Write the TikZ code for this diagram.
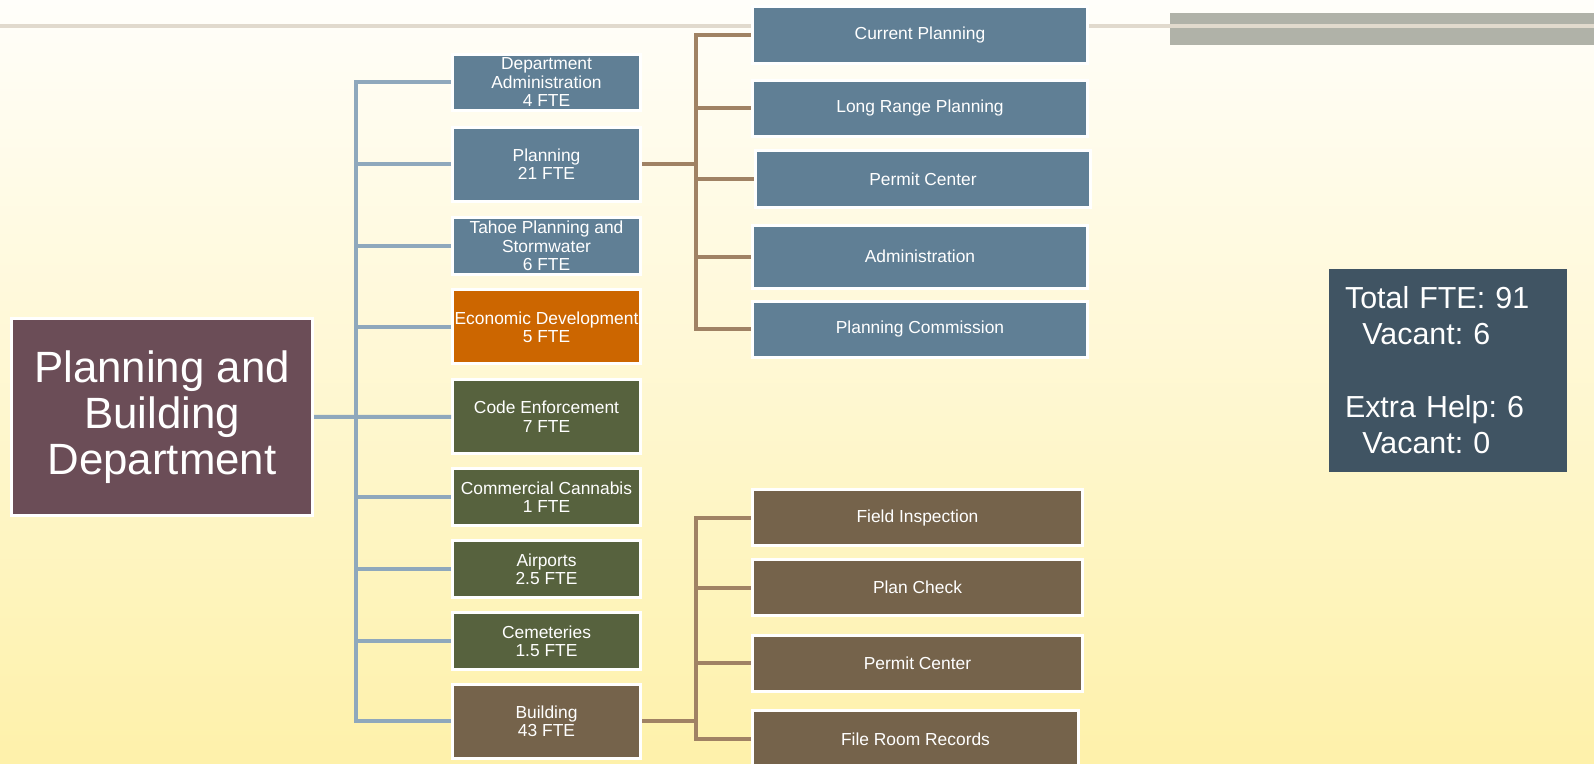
\documentclass[tikz,border=0pt]{standalone}
\usepackage{fontspec}
\setmainfont{Liberation Sans}
\usepackage{tikz}
\definecolor{bgtop}{RGB}{255, 254, 250}
\definecolor{bgbottom}{RGB}{254, 241, 170}
\definecolor{deptred}{RGB}{107, 77, 87}
\definecolor{unitblue}{RGB}{96, 127, 149}
\definecolor{unitorange}{RGB}{204, 102, 0}
\definecolor{unitgreen}{RGB}{87, 98, 62}
\definecolor{unitbrown}{RGB}{117, 99, 75}
\definecolor{infoslate}{RGB}{64, 84, 99}
\definecolor{treeblue}{RGB}{143, 168, 188}
\definecolor{treebrown}{RGB}{160, 130, 100}
\definecolor{rulebeige}{RGB}{225, 218, 205}
\definecolor{bandgray}{RGB}{176, 178, 168}
\frenchspacing

\begin{document}
\begin{tikzpicture}[x = 0.5pt, y = -0.5pt,
	box/.style = {rectangle, draw = white, line width = 1.5pt, text = white, inner sep = 0pt, align = center, font = \fontsize{8.7}{9.2}\selectfont},
	unitbox/.style = {box, minimum width = 94pt, minimum height = 28.2pt},
	subbox/.style = {box, minimum width = 167.7pt, minimum height = 28.2pt},
	bluetree/.style = {treeblue, line width = 2pt},
	browntree/.style = {treebrown, line width = 2pt}]
			\useasboundingbox (0,0) rectangle (1594,764);
			\shade[top color = bgtop, bottom color = bgbottom] (0,0) rectangle (1594,764);
			\fill[bandgray] (1170,13.3) rectangle (1594,44.7);
			\draw[rulebeige, line width = 1.85pt] (0,26) -- (1594,26);
			\node (dept) at (162,417) [box, fill = deptred, minimum width = 150.5pt, minimum height = 98pt, font = \fontsize{21.9}{22.9}\selectfont] {Planning and\\Building\\Department};
			\node (admin) at (546.5,82.3) [unitbox, fill = unitblue] {Department\\Administration\\4 FTE};
			\node (planning) at (546.5,164.3) [unitbox, fill = unitblue, minimum height = 37pt] {Planning\\21 FTE};
			\node (tahoe) at (546.5,246) [unitbox, fill = unitblue] {Tahoe Planning and\\Stormwater\\6 FTE};
			\node (econ) at (546.5,327) [unitbox, fill = unitorange, minimum height = 37pt] {Economic Development\\5 FTE};
			\node (code) at (546.5,416.7) [unitbox, fill = unitgreen, minimum height = 37pt] {Code Enforcement\\7 FTE};
			\node (cannabis) at (546.5,497) [unitbox, fill = unitgreen] {Commercial Cannabis\\1 FTE};
			\node (airports) at (546.5,569) [unitbox, fill = unitgreen] {Airports\\2.5 FTE};
			\node (cemeteries) at (546.5,641) [unitbox, fill = unitgreen] {Cemeteries\\1.5 FTE};
			\node (building) at (546.5,721.3) [unitbox, fill = unitbrown, minimum height = 37pt] {Building\\43 FTE};
			\node (current) at (920,35) [subbox, fill = unitblue] {Current Planning};
			\node (longrange) at (920,108.3) [subbox, fill = unitblue] {Long Range Planning};
			\node (permitp) at (923,179) [subbox, fill = unitblue] {Permit Center};
			\node (padmin) at (920,256.7) [subbox, fill = unitblue, minimum height = 31.5pt] {Administration};
			\node (commission) at (920,329.3) [subbox, fill = unitblue] {Planning Commission};
			\node (field) at (917.5,517.7) [subbox, fill = unitbrown, minimum width = 165pt] {Field Inspection};
			\node (plancheck) at (917.5,587.7) [subbox, fill = unitbrown, minimum width = 165pt] {Plan Check};
			\node (permitb) at (917.5,663.3) [subbox, fill = unitbrown, minimum width = 165pt] {Permit Center};
			\node (fileroom) at (915.5,739) [subbox, fill = unitbrown, minimum width = 163pt] {File Room Records};
			\node (totals) at (1448,370.3) [fill = infoslate, text = white, minimum width = 119pt, minimum height = 101.3pt, text width = 103pt, align = left, inner sep = 0pt, font = \fontsize{15.2}{18.2}\selectfont] {Total FTE: 91\\\hspace*{8.7pt}Vacant: 6\\[18.2pt]Extra Help: 6\\\hspace*{8.7pt}Vacant: 0};
			\coordinate (bluejoint) at (356,416.7);
			\coordinate (planjoint) at (696,164.3);
			\coordinate (buildjoint) at (696,721.3);
			\draw[bluetree] (dept) -- (code);
			\draw[bluetree] (bluejoint) |- (admin);
			\draw[bluetree] (bluejoint) |- (planning);
			\draw[bluetree] (bluejoint) |- (tahoe);
			\draw[bluetree] (bluejoint) |- (econ);
			\draw[bluetree] (bluejoint) |- (cannabis);
			\draw[bluetree] (bluejoint) |- (airports);
			\draw[bluetree] (bluejoint) |- (cemeteries);
			\draw[bluetree] (bluejoint) |- (building);
			\draw[browntree] (planning) -- (planjoint);
			\draw[browntree] (planjoint) |- (current);
			\draw[browntree] (planjoint) |- (longrange);
			\draw[browntree] (planjoint) |- (permitp);
			\draw[browntree] (planjoint) |- (padmin);
			\draw[browntree] (planjoint) |- (commission);
			\draw[browntree] (building) -- (buildjoint);
			\draw[browntree] (buildjoint) |- (field);
			\draw[browntree] (buildjoint) |- (plancheck);
			\draw[browntree] (buildjoint) |- (permitb);
			\draw[browntree] (buildjoint) |- (fileroom);
			\end{tikzpicture}
\end{document}
